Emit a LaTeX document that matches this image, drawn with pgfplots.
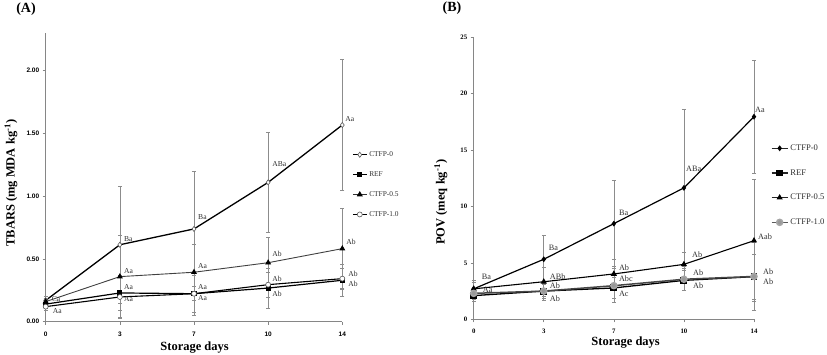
\documentclass[border=0pt]{standalone}
\usepackage{fontspec}
\setmainfont{Liberation Serif}
\setsansfont{Liberation Sans}
\usepackage{pgfplots}
\pgfplotsset{compat=1.18}
\definecolor{axgray}{HTML}{868686}
\definecolor{ebgray}{HTML}{8C8C8C}
\definecolor{labcol}{HTML}{303030}
\pgfplotsset{
  limg/.style n args={3}{legend image code/.code={\draw[draw=#1, line width=#2] (0pt,0pt) -- (#3,0pt); \draw[##1, only marks] plot coordinates {(0.5*#3,0pt)};}},
  common/.style={
    scale only axis,
    axis lines*=left,
    axis line style={axgray, line width=0.8pt, -},
    tick style={axgray, line width=0.6pt},
    major tick length=3pt,
    tick align=outside,
    xmin=0, xmax=4,
    xtick={0,1,2,3,4},
    xticklabels={0,3,7,10,14},
    /pgf/number format/assume math mode=true,
    clip=false,
    legend cell align=left,
    xlabel style={font=\bfseries\fontsize{12.5}{14}\selectfont, anchor=center},
    ylabel style={font=\bfseries\fontsize{12.5}{14}\selectfont, anchor=center},
    error bars/y dir=both,
    error bars/y explicit,
    error bars/error bar style={ebgray, line width=0.6pt, solid},
    error bars/error mark options={ebgray, rotate=90, mark size=2pt, line width=0.6pt, solid},
  }
}
\newcommand{\labA}[4]{\node[anchor=west, inner sep=0pt, text=labcol, font=\fontsize{7.6}{8}\selectfont, xshift=#3pt] at (axis cs:#1,#2) {#4};}
\newcommand{\labB}[4]{\node[anchor=west, inner sep=0pt, text=labcol, font=\fontsize{8.2}{9}\selectfont, xshift=#3pt] at (axis cs:#1,#2) {#4};}
\begin{document}
\begin{tikzpicture}
\path[use as bounding box] (0,0) rectangle (827pt,355pt);
\node[font=\bfseries\fontsize{14}{16}\selectfont] at (26pt,346pt) {(A)};
\node[font=\bfseries\fontsize{14}{16}\selectfont] at (452pt,347pt) {(B)};
% ---------------- Panel A ----------------
\begin{axis}[common,
  at={(45.7pt,33.3pt)}, anchor=south west,
  width=296.6pt, height=288.7pt,
  ymin=0, ymax=2.3,
  ytick={0,0.5,1,1.5,2},
  yticklabels={0.00,0.50,1.00,1.50,2.00},
  ticklabel style={font=\sffamily\bfseries\fontsize{6.5}{7}\selectfont},
  xticklabel style={yshift=-4pt},
  xlabel={Storage days},
  xlabel style={at={(axis description cs:0.502,0)}, yshift=-26.3pt},
  ylabel={TBARS (mg MDA kg\textsuperscript{-1})},
  ylabel style={at={(axis description cs:-0.117,0.48)}},
  legend style={draw=none, fill=none, at={(1.033,0.597)}, anchor=north west,
    inner sep=0pt, row sep=9.5pt, font=\fontsize{7.4}{8}\selectfont, text=labcol},
]
\addplot[black, line width=1.3pt, mark=diamond*, mark size=2.6pt,
  mark options={fill=white, draw=gray!70!black, line width=0.6pt}, limg={black}{1pt}{14pt}]
  coordinates {(0,0.17) +- (0,0.03) (1,0.613) +- (0,0.465) (2,0.739) +- (0,0.46) (3,1.11) +- (0,0.40) (4,1.567) +- (0,0.52)};
\addlegendentry{CTFP-0}
\addplot[black, line width=1.2pt, mark=square*, mark size=2pt,
  mark options={fill=black, draw=black}, limg={black}{1pt}{14pt}]
  coordinates {(0,0.14) +- (0,0.03) (1,0.229) +- (0,0.14) (2,0.223) +- (0,0.15) (3,0.268) +- (0,0.16) (4,0.33) +- (0,0.13)};
\addlegendentry{REF}
\addplot[black!75, line width=0.9pt, mark=triangle*, mark size=2.6pt,
  mark options={fill=black, draw=black}, limg={black!80}{1pt}{14pt}]
  coordinates {(0,0.16) +- (0,0.03) (1,0.359) +- (0,0.33) (2,0.394) +- (0,0.22) (3,0.47) +- (0,0.20) (4,0.582) +- (0,0.32)};
\addlegendentry{CTFP-0.5}
\addplot[black, line width=1.1pt, mark=*, mark size=2.5pt,
  mark options={fill=white, draw=gray!70!black, line width=0.6pt}, limg={black}{1pt}{14pt}]
  coordinates {(0,0.12) +- (0,0.03) (1,0.197) +- (0,0.16) (2,0.223) +- (0,0.17) (3,0.295) +- (0,0.10) (4,0.343) +- (0,0.08)};
\addlegendentry{CTFP-1.0}
\labA{0}{0.178}{6}{Ca}
\labA{0}{0.088}{7}{Aa}
\labA{1}{0.656}{4}{Ba}
\labA{1}{0.406}{4}{Aa}
\labA{1}{0.274}{4}{Aa}
\labA{1}{0.178}{4}{Aa}
\labA{2}{0.831}{4}{Ba}
\labA{2}{0.446}{4}{Aa}
\labA{2}{0.274}{4}{Aa}
\labA{2}{0.191}{4}{Aa}
\labA{3}{1.256}{4}{ABa}
\labA{3}{0.537}{4}{Ab}
\labA{3}{0.343}{4}{Ab}
\labA{3}{0.220}{4}{Ab}
\labA{4}{1.612}{3}{Aa}
\labA{4}{0.637}{4}{Ab}
\labA{4}{0.377}{6}{Ab}
\labA{4}{0.305}{6}{Ab}
\end{axis}
% ---------------- Panel B ----------------
\begin{axis}[common,
  at={(473.7pt,35.7pt)}, anchor=south west,
  width=280.3pt, height=282pt,
  ymin=0, ymax=25,
  ytick={0,5,10,15,20,25},
  yticklabels={0,5,10,15,20,25},
  ticklabel style={font=\bfseries\fontsize{6.8}{7}\selectfont},
  xticklabel style={yshift=-3.5pt},
  xlabel={Storage days},
  xlabel style={at={(axis description cs:0.542,0)}, yshift=-23pt},
  ylabel={POV (meq kg\textsuperscript{-1})},
  ylabel style={at={(axis description cs:-0.117,0.415)}},
  legend style={draw=none, fill=none, at={(1.06,0.627)}, anchor=north west,
    inner sep=0pt, row sep=13.5pt, font=\fontsize{8.6}{9}\selectfont, text=labcol},
]
\addplot[black, line width=1.2pt, mark=diamond*, mark size=2pt,
  mark options={fill=black, draw=black}, limg={black!85}{1.3pt}{16pt}]
  coordinates {(0,2.7) +- (0,0.8) (1,5.32) +- (0,2.1) (2,8.48) +- (0,3.8) (3,11.65) +- (0,6.95) (4,17.96) +- (0,5.0)};
\addlegendentry{CTFP-0}
\addplot[black, line width=1.3pt, mark=square*, mark size=2.8pt,
  mark options={fill=black, draw=black}, limg={black!85}{1.3pt}{16pt}]
  coordinates {(0,2.1) +- (0,0.5) (1,2.5) +- (0,0.6) (2,2.78) +- (0,0.9) (3,3.45) +- (0,0.9) (4,3.78) +- (0,2.0)};
\addlegendentry{REF}
\addplot[black, line width=1.1pt, mark=triangle*, mark size=2.5pt,
  mark options={fill=black, draw=black}, limg={black!85}{1.3pt}{16pt}]
  coordinates {(0,2.7) +- (0,0.6) (1,3.33) +- (0,1.3) (2,4.02) +- (0,1.3) (3,4.87) +- (0,1.05) (4,6.97) +- (0,5.4)};
\addlegendentry{CTFP-0.5}
\addplot[gray!55!black, line width=1.5pt, mark=*, mark size=3pt,
  mark options={fill=gray!80, draw=gray!70}, limg={gray!70!black}{1.3pt}{16pt}]
  coordinates {(0,2.3) +- (0,0.5) (1,2.5) +- (0,0.8) (2,2.98) +- (0,1.5) (3,3.55) +- (0,1.0) (4,3.8) +- (0,3.0)};
\addlegendentry{CTFP-1.0}
\labB{0}{3.8}{8}{Ba}
\labB{0}{2.6}{9}{Aa}
\labB{1}{6.3}{5}{Ba}
\labB{1}{3.8}{6}{ABb}
\labB{1}{2.95}{6}{Ab}
\labB{1}{1.8}{6}{Ab}
\labB{2}{9.45}{5}{Ba}
\labB{2}{4.6}{5}{Ab}
\labB{2}{3.63}{5}{Abc}
\labB{2}{2.3}{5}{Ac}
\labB{3}{13.3}{2}{ABa}
\labB{3}{5.76}{8}{Ab}
\labB{3}{4.13}{9}{Ab}
\labB{3}{2.98}{9}{Ab}
\labB{4}{18.6}{1}{Aa}
\labB{4}{7.3}{4}{Aab}
\labB{4}{4.2}{9}{Ab}
\labB{4}{3.33}{9}{Ab}
\end{axis}
\end{tikzpicture}
\end{document}
